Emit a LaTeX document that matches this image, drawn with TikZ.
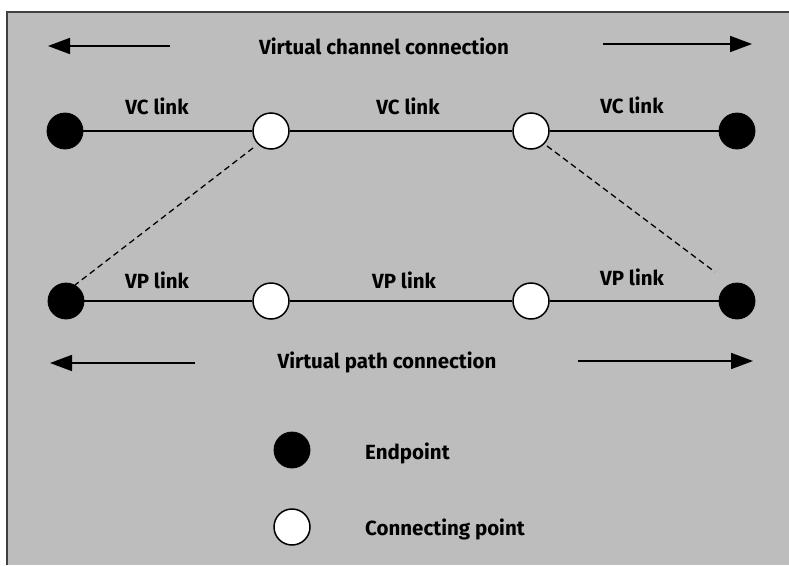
\documentclass[tikz,border=0pt]{standalone}
\usepackage{fontspec}
\setmainfont{Fira Sans}
\usetikzlibrary{arrows.meta}
\begin{document}
\begin{tikzpicture}[x=1pt,y=-1pt,
  endpt/.style={circle,fill=black,draw=black,line width=0.8pt,minimum size=36pt,inner sep=0pt},
  connpt/.style={circle,fill=white,draw=black,line width=1.5pt,minimum size=36pt,inner sep=0pt},
  lbl/.style={font=\fontsize{20.5}{24}\selectfont\bfseries,inner sep=0pt},
  link/.style={line width=1.7pt},
  conn/.style={line width=1.7pt,-{Triangle[length=22pt,width=16pt]}},
  dashline/.style={line width=1.3pt,dash pattern=on 6pt off 4pt}]
  \useasboundingbox (0,0) rectangle (789,565);
  % panel
  \fill[black!26] (7,12) rectangle (789,565);
  \draw[line width=1.4pt,black!75] (7,565) -- (7,12) -- (789,12);

  % virtual channel connection
  \node[lbl] (vcc) at (384,46) {Virtual channel connection};
  \coordinate (vccL0) at (170,46); \coordinate (vccL1) at (48,46);
  \coordinate (vccR0) at (603,44); \coordinate (vccR1) at (752,44);
  \draw[conn] (vccL0) -- (vccL1);
  \draw[conn] (vccR0) -- (vccR1);

  % VC row
  \node[endpt] (c1) at (65,131) {};
  \node[connpt] (c2) at (271,131) {};
  \node[connpt] (c3) at (531,131) {};
  \node[endpt] (c4) at (737,131) {};
  \draw[link] (c1) -- (c2) -- (c3) -- (c4);
  \node[lbl] (vcl1) at (157,106) {VC link};
  \node[lbl] (vcl2) at (408,106) {VC link};
  \node[lbl] (vcl3) at (632,105) {VC link};

  % VP row
  \node[endpt] (p1) at (66,301) {};
  \node[connpt] (p2) at (271,301) {};
  \node[connpt] (p3) at (531,301) {};
  \node[endpt] (p4) at (737,301) {};
  \draw[link] (p1) -- (p2) -- (p3) -- (p4);
  \node[lbl] (vpl1) at (157,280) {VP link};
  \node[lbl] (vpl2) at (404,280) {VP link};
  \node[lbl] (vpl3) at (632,277) {VP link};

  % dashed correspondence lines
  \coordinate (dl0) at (253,148); \coordinate (dl1) at (75,285);
  \coordinate (dr0) at (547,146); \coordinate (dr1) at (715,272);
  \draw[dashline] (dl0) -- (dl1);
  \draw[dashline] (dr0) -- (dr1);

  % virtual path connection
  \node[lbl] (vpc) at (387,362) {Virtual path connection};
  \coordinate (vpcL0) at (195,363); \coordinate (vpcL1) at (50,363);
  \coordinate (vpcR0) at (578,361); \coordinate (vpcR1) at (753,361);
  \draw[conn] (vpcL0) -- (vpcL1);
  \draw[conn] (vpcR0) -- (vpcR1);

  % legend
  \node[endpt] (le) at (292,450) {};
  \node[lbl,anchor=west] (let) at (365,453) {Endpoint};
  \node[connpt] (lc) at (292,527) {};
  \node[lbl,anchor=west] (lct) at (365,529) {Connecting point};
\end{tikzpicture}
\end{document}
